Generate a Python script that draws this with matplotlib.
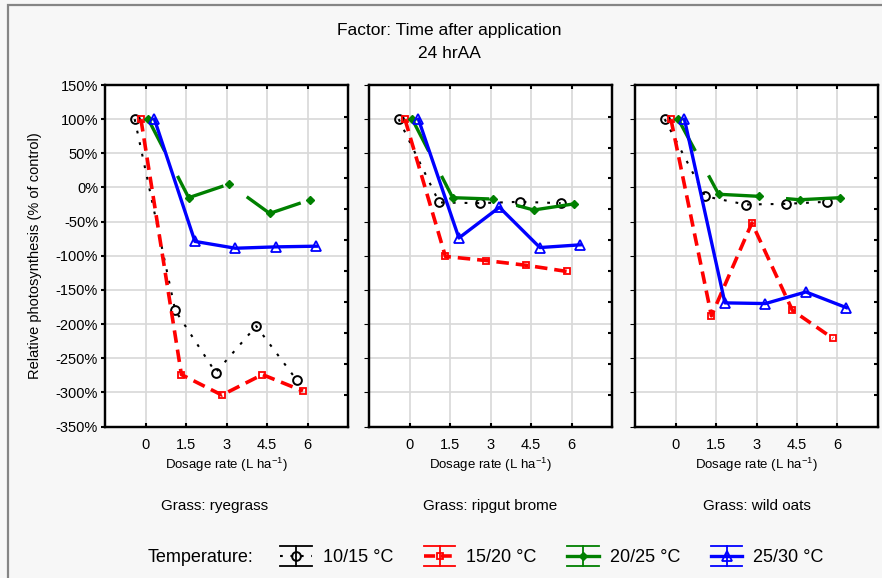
import numpy as np
import matplotlib
matplotlib.use("Agg")
import matplotlib.pyplot as plt
from matplotlib.ticker import PercentFormatter
from matplotlib.legend_handler import HandlerLine2D
from matplotlib.lines import Line2D
from matplotlib.patches import Rectangle

plt.rcParams['font.family'] = ['Liberation Sans', 'DejaVu Sans']
plt.rcParams['mathtext.fontset'] = 'custom'
plt.rcParams['mathtext.rm'] = 'Liberation Sans'
plt.rcParams['axes.unicode_minus'] = False
plt.rcParams['lines.scale_dashes'] = False

# data
doses = [0, 1.5, 3, 4.5, 6]
grasses = ["ryegrass", "ripgut brome", "wild oats"]
temps = ["10/15 °C", "15/20 °C", "20/25 °C", "25/30 °C"]

rye_10 = [100, -180, -271, -203, -282]
rye_15 = [100, -274, -304, -274, -298]
rye_20 = [100, -15, 5, -38, -18]
rye_25 = [100, -79, -89, -87, -86]

brome_10 = [100, -22, -23, -21, -23]
brome_15 = [100, -101, -107, -114, -123]
brome_20 = [100, -15, -17, -33, -24]
brome_25 = [100, -74, -29, -88, -84]

oats_10 = [100, -13, -25, -24, -21]
oats_15 = [100, -188, -52, -180, -221]
oats_20 = [100, -10, -13, -18, -15]
oats_25 = [100, -169, -170, -153, -176]

panels = [
    [rye_10, rye_15, rye_20, rye_25],
    [brome_10, brome_15, brome_20, brome_25],
    [oats_10, oats_15, oats_20, oats_25],
]

# styles per temperature
offsets = [-0.4, -0.17, 0.1, 0.33]
styles = [
    dict(color='black', lw=1.5, ls=(0, (2, 6.5)), marker='o', ms=6.3, mfc='none', mew=1.4),
    dict(color='red', lw=2.6, ls=(0, (9, 5)), marker='s', ms=4.5, mfc='none', mew=1.3),
    dict(color='green', lw=2.4, ls=(18, (44, 20)), marker='D', ms=4.5, mfc='green', mew=1),
    dict(color='blue', lw=2.4, ls='-', marker='^', ms=7, mfc='none', mew=1.3),
]


class WhiskerHandler(HandlerLine2D):
    def create_artists(self, legend, orig_handle, xdescent, ydescent,
                       width, height, fontsize, trans):
        arts = super().create_artists(legend, orig_handle, xdescent, ydescent,
                                      width, height, fontsize, trans)
        # legend handle: keep a simple pattern so it reads like the reference
        arts[0].set_linestyle(orig_handle._leg_ls)
        c = orig_handle.get_color()
        x0, x1 = -xdescent, -xdescent + width
        yc = -ydescent + height / 2
        h = 7.2
        for yy in (yc - h, yc + h):
            arts.append(Line2D([x0, x1], [yy, yy], color=c, lw=1.3, transform=trans))
        arts.append(Line2D([(x0 + x1) / 2] * 2, [yc - h, yc + h], color=c, lw=1.3,
                           transform=trans))
        return arts


leg_ls = [(0, (2, 5.5)), (0, (8, 4)), '-', '-']

W, H = 882, 578
fig = plt.figure(figsize=(W / 100, H / 100), dpi=100, facecolor='#f7f7f7')

# outer frame
fig.patches.append(Rectangle((8 / W, -0.1), 1.2, 1 - 5 / H + 0.1, transform=fig.transFigure,
                             fill=False, edgecolor='#858585', lw=1.6))

lefts = [105, 369, 635]
handles = []
for k, (name, series) in enumerate(zip(grasses, panels)):
    ax = fig.add_axes([lefts[k] / W, 1 - 426.5 / H, 243 / W, 341.5 / H])
    ax.set_facecolor('white')
    for i, vals in enumerate(series):
        x = np.array(doses) + offsets[i]
        ln, = ax.plot(x, vals, **styles[i])
        ln.set_dash_capstyle('butt')
        ln._leg_ls = leg_ls[i]
        if k == 0:
            handles.append(ln)
    ax.set_xlim(-1.5, 7.5)
    ax.set_ylim(-350, 150)
    ax.set_xticks(doses)
    ax.set_xticklabels(["0", "1.5", "3", "4.5", "6"])
    ax.set_yticks(np.arange(-350, 151, 50))
    ax.yaxis.set_major_formatter(PercentFormatter(decimals=0))
    ax.grid(True, color='#d8d8d8', lw=1.2)
    ax.set_axisbelow(True)
    for s in ax.spines.values():
        s.set_linewidth(1.6)
    ax.tick_params(axis='x', direction='in', length=3, width=1.5, top=True,
                   labelsize=10.5, pad=8)
    if k == 0:
        ax.tick_params(axis='y', direction='out', length=3, width=1.5,
                       labelsize=10.5, pad=2)
    else:
        ax.tick_params(axis='y', left=False, labelleft=False)
    ax2 = ax.twinx()
    ax2.set_ylim(-350, 150)
    ax2.set_yticks(np.linspace(103.75, -303.7, 10))
    ax2.tick_params(axis='y', direction='in', length=3, width=1.5, labelright=False)
    for s in ax2.spines.values():
        s.set_linewidth(1.6)
    ax.set_xlabel("Dosage rate (L ha$^{\\mathregular{-1}}$)", fontsize=9.5, labelpad=3)
    gx = 0.449 if k == 0 else 0.5
    ax.text(gx, -0.234, "Grass: " + name, transform=ax.transAxes, ha='center',
            va='center', fontsize=11)

fig.text(449 / W, 1 - 31 / H, "Factor: Time after application", ha='center',
         va='center', fontsize=12.5)
fig.text(449 / W, 1 - 53 / H, "24 hrAA", ha='center', va='center', fontsize=12.5)
fig.text(35 / W, 1 - 256 / H, "Relative photosynthesis (% of control)", rotation=90,
         ha='center', va='center', fontsize=10.5)

fig.text(148 / W, 1 - 558 / H, "Temperature:", ha='left', va='center', fontsize=13)
fig.legend(handles, temps, loc='center', bbox_to_anchor=(552 / W, 1 - 558 / H),
           ncol=4, frameon=False, fontsize=13, handlelength=1.75, handletextpad=0.6,
           columnspacing=1.7, numpoints=1,
           handler_map={Line2D: WhiskerHandler()})

fig.savefig("out.png", dpi=100, facecolor=fig.get_facecolor())
